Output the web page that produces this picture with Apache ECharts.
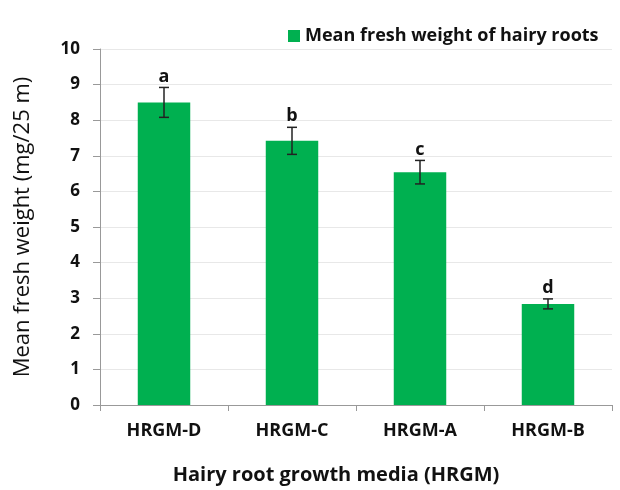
<!DOCTYPE html>
<html>
<head>
<meta charset="utf-8">
<script src="https://cdn.jsdelivr.net/npm/echarts@6/dist/echarts.min.js"></script>
<style>
  html, body { margin: 0; padding: 0; background: #fff; }
  #chart { width: 620px; height: 490px; }
</style>
</head>
<body>
<div id="chart"></div>
<script>
// data
var categories = ['HRGM-D', 'HRGM-C', 'HRGM-A', 'HRGM-B'];
var meanWeight = [8.5, 7.42, 6.54, 2.84];
var stdErr = [0.42, 0.38, 0.33, 0.14];
var letters = ['a', 'b', 'c', 'd'];
var yTicks = [0, 1, 2, 3, 4, 5, 6, 7, 8, 9, 10];

var FONT = '"Open Sans", "Liberation Sans", sans-serif';

var myChart = echarts.init(document.getElementById('chart'));

var errData = categories.map(function (c, i) {
    return [i, meanWeight[i], stdErr[i], letters[i]];
});

var option = {
    animation: false,
    textStyle: { fontFamily: FONT },
    legend: {
        top: 22,
        left: 283,
        itemWidth: 12,
        itemHeight: 12,
        itemGap: 13,
        icon: 'rect',
        data: ['Mean fresh weight of hairy roots'],
        textStyle: { fontSize: 18, fontWeight: 'bold', color: '#111', fontFamily: FONT }
    },
    grid: {
        left: 100,
        right: 8,
        top: 49,
        bottom: 85
    },
    xAxis: {
        type: 'category',
        data: categories,
        name: 'Hairy root growth media (HRGM)',
        nameLocation: 'middle',
        nameGap: 60,
        nameTextStyle: { fontSize: 20, fontWeight: 'bold', color: '#111', padding: [0, 40, 0, 0] },
        axisLine: { lineStyle: { color: '#999', width: 1 } },
        axisTick: { show: true, length: 6, lineStyle: { color: '#999' } },
        axisLabel: { fontSize: 18, fontWeight: 'bold', color: '#111', margin: 17 }
    },
    yAxis: {
        type: 'value',
        min: 0,
        max: 10,
        interval: 1,
        name: 'Mean fresh weight (mg/25 m)',
        nameLocation: 'middle',
        nameGap: 66,
        nameTextStyle: { fontSize: 22, color: '#111' },
        axisLine: { show: true, lineStyle: { color: '#999', width: 1 } },
        axisTick: { show: true, length: 7, lineStyle: { color: '#999' } },
        axisLabel: {
            fontSize: 17, fontWeight: 'bold', color: '#111', margin: 20,
            formatter: function (v) { return yTicks.indexOf(v) >= 0 ? String(v) : ''; }
        },
        splitLine: { show: true, lineStyle: { color: '#e8e8e8', width: 1 } }
    },
    series: [
        {
            name: 'Mean fresh weight of hairy roots',
            type: 'bar',
            data: meanWeight,
            barWidth: '41%',
            itemStyle: { color: '#00B050' }
        },
        {
            name: 'error',
            type: 'custom',
            data: errData,
            z: 10,
            renderItem: function (params, api) {
                var x = api.value(0);
                var v = api.value(1);
                var e = api.value(2);
                var hi = api.coord([x, v + e]);
                var lo = api.coord([x, v - e]);
                var cap = 5;
                var style = { stroke: '#222', lineWidth: 1.5 };
                return {
                    type: 'group',
                    children: [
                        { type: 'line', shape: { x1: hi[0], y1: hi[1], x2: lo[0], y2: lo[1] }, style: style },
                        { type: 'line', shape: { x1: hi[0] - cap, y1: hi[1], x2: hi[0] + cap, y2: hi[1] }, style: style },
                        { type: 'line', shape: { x1: lo[0] - cap, y1: lo[1], x2: lo[0] + cap, y2: lo[1] }, style: style },
                        {
                            type: 'text',
                            style: {
                                text: api.value(3),
                                x: hi[0],
                                y: hi[1] - 2,
                                align: 'center',
                                verticalAlign: 'bottom',
                                fill: '#111',
                                font: 'bold 18px ' + FONT
                            }
                        }
                    ]
                };
            }
        }
    ]
};

myChart.setOption(option);
</script>
</body>
</html>
